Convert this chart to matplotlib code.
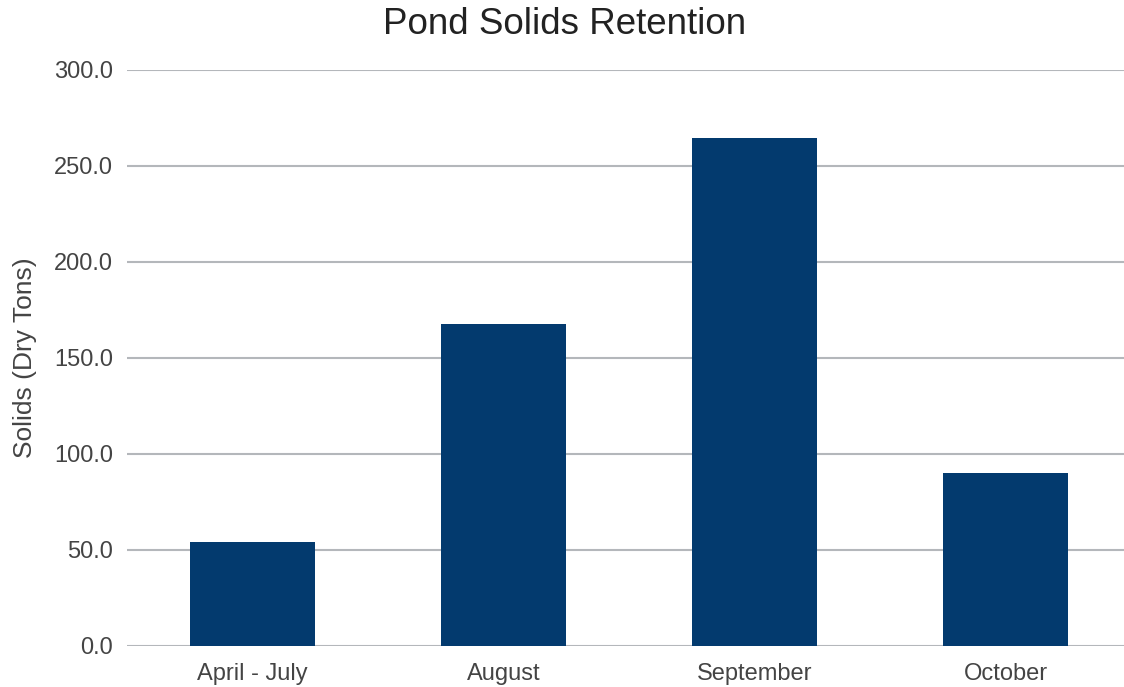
import matplotlib
matplotlib.use("Agg")
import matplotlib.pyplot as plt

categories = ["April - July", "August", "September", "October"]
values = [54.3, 167.7, 264.4, 90.3]
yticks = [0, 50, 100, 150, 200, 250, 300]

plt.rcParams['font.family'] = ['Liberation Sans', 'DejaVu Sans']

fig = plt.figure(figsize=(11.24, 6.87), dpi=100)
ax = fig.add_axes([127/1124, 41/687, (1124-127)/1124, 576/687])

x = list(range(len(categories)))
ax.bar(x, values, width=0.5, color="#033a6e", zorder=3)

ax.set_xlim(-0.5, 3.472)
ax.set_ylim(0, 300)
ax.set_yticks(yticks)
ax.set_yticklabels([f"{v:.1f}" for v in yticks])
ax.set_xticks(x)
ax.set_xticklabels(categories)

ax.grid(axis='y', color="#b4b7bb", linewidth=1.5, zorder=0)
ax.set_axisbelow(True)
for s in ax.spines.values():
    s.set_visible(False)
ax.tick_params(axis='both', length=0, labelsize=17, colors="#444444")
ax.tick_params(axis='y', pad=10)
ax.tick_params(axis='x', pad=12)

fig.text(25/1124, 1 - 358/687, "Solids (Dry Tons)", fontsize=19, color="#444444",
         rotation=90, ha='center', va='center')
fig.text(565/1124, 1 - 25/687, "Pond Solids Retention", fontsize=26.5,
         color="#222222", ha='center', va='center')

fig.savefig("out.png", dpi=100)
